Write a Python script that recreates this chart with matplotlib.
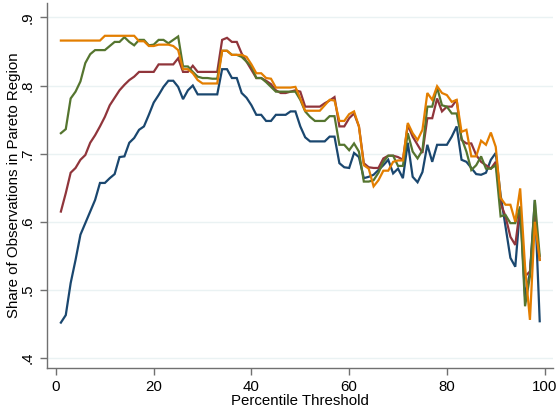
import numpy as np
import matplotlib
matplotlib.use("Agg")
import matplotlib.pyplot as plt

# Percentile thresholds
pct = list(range(1, 100))

# Share of observations in Pareto region, one list per series
navy = [.452, .463, .510, .544, .581, .598, .615, .632, .657, .657,
        .664, .670, .695, .696, .716, .723, .735, .740, .757, .775,
        .786, .798, .807, .807, .798, .780, .793, .800, .787, .787,
        .787, .787, .787, .824, .824, .811, .811, .789, .782, .771,
        .757, .757, .748, .748, .757, .757, .757, .762, .762, .740,
        .724, .718, .718, .718, .718, .725, .725, .686, .680, .679,
        .701, .695, .664, .666, .669, .676, .683, .691, .671, .678,
        .664, .716, .666, .658, .673, .713, .688, .713, .713, .713,
        .725, .740, .691, .688, .679, .670, .669, .672, .691, .701,
        .639, .593, .547, .534, .622, .490, .525, .632, .454]

maroon = [.615, .642, .672, .679, .691, .698, .716, .727, .740, .754,
          .771, .782, .793, .801, .808, .813, .820, .820, .820, .820,
          .831, .831, .831, .831, .840, .820, .820, .829, .820, .820,
          .820, .820, .820, .867, .870, .864, .864, .847, .835, .823,
          .811, .811, .807, .802, .793, .789, .789, .791, .793, .791,
          .769, .769, .769, .769, .774, .778, .783, .740, .740, .752,
          .759, .740, .686, .680, .679, .679, .693, .697, .697, .695,
          .691, .742, .725, .713, .701, .752, .752, .781, .762, .769,
          .769, .779, .720, .715, .715, .698, .688, .683, .678, .688,
          .627, .608, .578, .566, .622, .520, .527, .608, .544]

green = [.730, .736, .781, .791, .806, .833, .846, .852, .852, .852,
         .858, .864, .864, .871, .864, .859, .867, .867, .859, .860,
         .867, .867, .862, .867, .872, .828, .828, .820, .813, .811,
         .811, .810, .810, .851, .851, .845, .845, .842, .835, .828,
         .811, .811, .805, .798, .791, .791, .791, .791, .791, .779,
         .762, .754, .748, .748, .748, .755, .755, .713, .713, .705,
         .715, .703, .659, .659, .661, .672, .688, .697, .697, .682,
         .682, .730, .703, .693, .705, .769, .769, .797, .771, .769,
         .759, .759, .723, .703, .676, .683, .696, .678, .678, .683,
         .608, .610, .598, .598, .622, .476, .520, .632, .550]

orange = [.866, .866, .866, .866, .866, .866, .866, .866, .866, .873,
          .873, .873, .873, .873, .873, .873, .865, .865, .858, .858,
          .860, .860, .860, .858, .852, .824, .824, .818, .808, .803,
          .803, .803, .803, .851, .851, .845, .845, .845, .842, .831,
          .818, .818, .811, .810, .797, .797, .797, .797, .798, .781,
          .763, .763, .763, .763, .771, .779, .778, .748, .748, .758,
          .762, .740, .683, .678, .652, .661, .675, .675, .688, .690,
          .690, .745, .730, .720, .735, .789, .779, .799, .789, .786,
          .776, .779, .732, .735, .696, .696, .719, .713, .731, .710,
          .635, .625, .625, .600, .649, .534, .456, .600, .544]

x_ticks = [0, 20, 40, 60, 80, 100]
y_ticks = [.4, .5, .6, .7, .8, .9]
y_labels = [".4", ".5", ".6", ".7", ".8", ".9"]

fs = 10.8
plt.rcParams['font.family'] = ['Liberation Sans', 'DejaVu Sans']
plt.rcParams['font.size'] = fs

fig = plt.figure(figsize=(5.57, 4.12), dpi=100)
ax = fig.add_axes([0.0844, 0.1075, 0.9086, 0.885])

# Stata s2color palette
series = [(navy, '#1a476f'), (maroon, '#90353b'),
          (green, '#55752f'), (orange, '#e37e00')]
for vals, col in series:
    ax.plot(pct, vals, color=col, lw=1.6, solid_joinstyle='miter')

ax.set_xlim(-1.84, 101.74)
ax.set_ylim(0.3858, 0.921)
ax.set_xticks(x_ticks)
ax.set_yticks(y_ticks)
ax.set_yticklabels(y_labels, rotation=90, va='center')

ax.grid(axis='y', color='#eaf2f3', lw=1)
ax.set_axisbelow(True)

for side in ['top', 'right']:
    ax.spines[side].set_visible(False)
for side in ['left', 'bottom']:
    ax.spines[side].set_color('#707070')
    ax.spines[side].set_linewidth(1)
ax.tick_params(direction='out', length=5, width=1, color='#707070',
               labelcolor='black', labelsize=fs, pad=4)

ax.set_xlabel('Percentile Threshold', fontsize=fs, labelpad=0)
ax.set_ylabel('Share of Observations in Pareto Region', fontsize=fs, labelpad=0)

fig.savefig('out.png', dpi=100)
